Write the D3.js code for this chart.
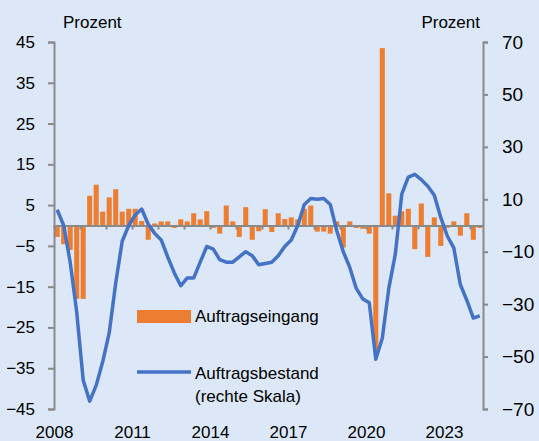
<!DOCTYPE html>
<html>
<head>
<meta charset="utf-8">
<script src="https://cdn.jsdelivr.net/npm/d3@7"></script>
<style>
  body { margin: 0; background: #dce8f7; }
  svg { display: block; font-family: "Liberation Sans", Arial, sans-serif; }
</style>
</head>
<body>
<svg></svg>
<script>
// quarters 2008Q1 .. 2024Q2
var years = [2008,2009,2010,2011,2012,2013,2014,2015,2016,2017,2018,2019,2020,2021,2022,2023,2024];
var yearLabels = [2008, 2011, 2014, 2017, 2020, 2023];
var leftTicks = [-45,-35,-25,-15,-5,5,15,25,35,45];
var rightTicks = [-70,-50,-30,-10,10,30,50,70];

// Auftragseingang, Veraenderung in Prozent (linke Skala)
var auftragseingang = [-2.8,-4.6,-6,-18, -18,7.3,10,3.4, 6.9,8.9,3.4,4.1, 4.1,1.1,-3.5,0.5,
  1,1,-0.6,1.5, 1,3,1.5,3.5, -0.6,-2,4.9,1, -2.8,4.5,-3.5,-1.4,
  4,-1.6,3,1.6, 2,1.5,4.1,4.9, -1.5,-1.5,-2,1, -5.4,1,-0.6,-0.8,
  -2,-31,43.5,7.9, 2.4,3.5,4.1,-5.8, 5.4,-7.7,2,-5, -0.6,1,-2.5,3, -3.5,-0.6];

// Auftragsbestand (rechte Skala)
var auftragsbestand = [6,0,-14,-33, -59,-67,-61,-52, -41,-22,-6,0, 4,6.3,0.5,-3,
  -5.5,-12,-18,-23, -20,-20,-14,-8, -9,-13,-14,-14, -12,-10,-11.5,-15,
  -14.5,-14,-11.5,-8, -5.5,0,8,10.3, 10,10.3,8,-2, -10,-16,-24,-28,
  -29.5,-51,-43,-24, -11,12,18.5,19.5, 17.5,15,11.5,3, -4,-8.5,-22.5,-28.5, -35.3,-34.5];

var quarters = [];
years.forEach(function(y){
  [1,2,3,4].forEach(function(q){ quarters.push(y + "Q" + q); });
});
quarters = quarters.slice(0, auftragseingang.length);

var svgWidth = 539, svgHeight = 441;
var plotLeft = 54, plotRight = 483, plotTop = 42, plotBottom = 409;
var axisColor = "#8a8a8a";
var font = "Liberation Sans, Arial, sans-serif";

var svg = d3.select("svg")
  .attr("width", svgWidth)
  .attr("height", svgHeight);

var xScale = d3.scaleBand()
  .domain(quarters)
  .range([plotLeft, plotRight])
  .paddingInner(0.22)
  .paddingOuter(0.1);

var yearScale = d3.scaleLinear()
  .domain([2008, 2008 + quarters.length / 4])
  .range([plotLeft, plotRight]);

var yLeft = d3.scaleLinear().domain([-45, 45]).range([plotBottom, plotTop]);
var yRight = d3.scaleLinear().domain([-70, 70]).range([plotBottom, plotTop]);

// bars
svg.append("g").selectAll("rect")
  .data(auftragseingang)
  .enter()
  .append("rect")
  .attr("x", function(d, i){ return xScale(quarters[i]); })
  .attr("width", xScale.bandwidth())
  .attr("y", function(d){ return yLeft(Math.max(0, d)); })
  .attr("height", function(d){ return Math.abs(yLeft(d) - yLeft(0)); })
  .attr("fill", "#ed7d31");

// x axis on the zero line
var xAxis = svg.append("g")
  .attr("transform", "translate(0," + yLeft(0) + ")")
  .call(d3.axisBottom(yearScale).tickValues(years).tickSize(4).tickSizeOuter(0).tickFormat(""));
xAxis.selectAll("path, line").attr("stroke", axisColor).attr("stroke-width", 2);

// year labels at the bottom
var xLabels = svg.append("g")
  .attr("transform", "translate(0,424)")
  .call(d3.axisBottom(yearScale).tickValues(yearLabels).tickSize(0).tickFormat(d3.format("d")));
xLabels.select(".domain").remove();
xLabels.selectAll("text").attr("font-size", 17).attr("fill", "#000")
  .attr("font-family", font).attr("dy", "0.71em").attr("y", 2);

// line
var line = d3.line()
  .x(function(d, i){ return xScale(quarters[i]) + xScale.bandwidth() / 2; })
  .y(function(d){ return yRight(d); });

svg.append("path")
  .datum(auftragsbestand)
  .attr("d", line)
  .attr("fill", "none")
  .attr("stroke", "#4472c4")
  .attr("stroke-width", 3.5)
  .attr("stroke-linejoin", "round");

// left axis
var yAxisL = svg.append("g")
  .attr("transform", "translate(" + plotLeft + ",0)")
  .call(d3.axisLeft(yLeft).tickValues(leftTicks).tickSize(6).tickSizeOuter(6).tickPadding(13));
yAxisL.selectAll("path, line").attr("stroke", axisColor).attr("stroke-width", 2);
yAxisL.selectAll("text").attr("font-size", 17).attr("fill", "#000").attr("font-family", font);

// right axis
var yAxisR = svg.append("g")
  .attr("transform", "translate(" + plotRight + ",0)")
  .call(d3.axisRight(yRight).tickValues(rightTicks).tickSize(5).tickSizeOuter(5).tickPadding(14));
yAxisR.selectAll("path, line").attr("stroke", axisColor).attr("stroke-width", 2);
yAxisR.selectAll("text").attr("font-size", 19).attr("fill", "#000").attr("font-family", font);

// units
svg.append("text").attr("x", 63).attr("y", 28).attr("font-size", 17).text("Prozent");
svg.append("text").attr("x", 480).attr("y", 28).attr("font-size", 17)
  .attr("text-anchor", "end").text("Prozent");

// legend
svg.append("rect").attr("x", 137).attr("y", 310).attr("width", 54).attr("height", 13)
  .attr("fill", "#ed7d31");
svg.append("text").attr("x", 195).attr("y", 322).attr("font-size", 17).text("Auftragseingang");

svg.append("line").attr("x1", 137).attr("x2", 191).attr("y1", 372).attr("y2", 372)
  .attr("stroke", "#4472c4").attr("stroke-width", 3.5);
svg.append("text").attr("x", 195).attr("y", 379).attr("font-size", 17).text("Auftragsbestand");
svg.append("text").attr("x", 195).attr("y", 402).attr("font-size", 17).text("(rechte Skala)");
</script>
</body>
</html>
